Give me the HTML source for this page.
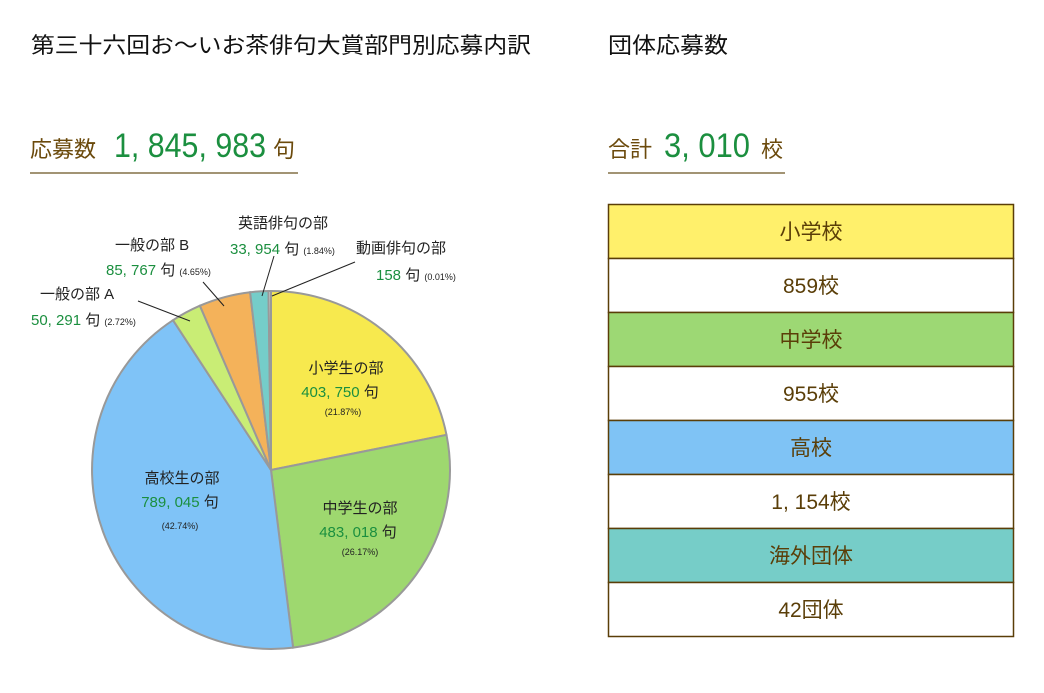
<!DOCTYPE html>
<html><head><meta charset="utf-8"><style>
html,body{margin:0;padding:0;background:#fff;}
svg{display:block;font-family:"Liberation Sans","Noto Sans CJK JP",sans-serif;}
</style></head><body>
<svg width="1044" height="693" viewBox="0 0 1044 693" xmlns="http://www.w3.org/2000/svg">
<text x="31" y="53" font-size="22" fill="#111" textLength="500" lengthAdjust="spacingAndGlyphs">第三十六回お～いお茶俳句大賞部門別応募内訳</text>
<text x="608" y="53" font-size="22" fill="#111" textLength="120" lengthAdjust="spacingAndGlyphs">団体応募数</text>

<text x="30" y="157" font-size="22" fill="#6b4a0c">応募数</text>
<text x="114" y="157" font-size="34" fill="#1b8f3f" textLength="152" lengthAdjust="spacingAndGlyphs">1, 845, 983</text>
<text x="273" y="157" font-size="22" fill="#6b4a0c">句</text>
<line x1="30" y1="173" x2="298" y2="173" stroke="#6b5420" stroke-width="1.2"/>

<text x="608" y="157" font-size="22" fill="#6b4a0c">合計</text>
<text x="664" y="157" font-size="34" fill="#1b8f3f" textLength="86" lengthAdjust="spacingAndGlyphs">3, 010</text>
<text x="761" y="157" font-size="22" fill="#6b4a0c">校</text>
<line x1="608" y1="173" x2="785" y2="173" stroke="#6b5420" stroke-width="1.2"/>

<g stroke="#999" stroke-width="2">
<path d="M271,470 L271,291 A179,179 0 0 1 446.5,434.9 Z" fill="#f7e94e"/>
<path d="M271,470 L446.5,434.9 A179,179 0 0 1 293.1,647.6 Z" fill="#9ed86f"/>
<path d="M271,470 L293.1,647.6 A179,179 0 0 1 173,320.2 Z" fill="#7fc3f7"/>
<path d="M271,470 L173,320.2 A179,179 0 0 1 199.9,305.7 Z" fill="#c9ed75"/>
<path d="M271,470 L199.9,305.7 A179,179 0 0 1 250.1,292.2 Z" fill="#f4b25a"/>
<path d="M271,470 L250.1,292.2 A179,179 0 0 1 268.5,291 Z" fill="#75cdc9"/>
<path d="M271,470 L268.5,291 A179,179 0 0 1 271,291 Z" fill="#ddd"/>
</g>
<g stroke="#222" stroke-width="1">
<line x1="138" y1="301" x2="190" y2="321"/>
<line x1="203" y1="282" x2="224" y2="306"/>
<line x1="274" y1="256" x2="262" y2="296"/>
<line x1="355" y1="262" x2="272" y2="296"/>
</g>
<g font-size="15" fill="#222">
<text x="238" y="228">英語俳句の部</text>
<text x="115" y="250">一般の部 B</text>
<text x="356" y="253">動画俳句の部</text>
<text x="40" y="299">一般の部 A</text>
</g>
<g font-size="15">
<text x="230" y="254"><tspan fill="#1b8f3f">33, 954</tspan><tspan fill="#222"> 句 </tspan><tspan fill="#222" font-size="9">(1.84%)</tspan></text>
<text x="106" y="275"><tspan fill="#1b8f3f">85, 767</tspan><tspan fill="#222"> 句 </tspan><tspan fill="#222" font-size="9">(4.65%)</tspan></text>
<text x="376" y="280"><tspan fill="#1b8f3f">158</tspan><tspan fill="#222"> 句 </tspan><tspan fill="#222" font-size="9">(0.01%)</tspan></text>
<text x="31" y="325"><tspan fill="#1b8f3f">50, 291</tspan><tspan fill="#222"> 句 </tspan><tspan fill="#222" font-size="9">(2.72%)</tspan></text>
</g>
<g font-size="15" text-anchor="middle" fill="#222">
<text x="346" y="373">小学生の部</text>
<text x="340" y="397"><tspan fill="#1b8f3f">403, 750</tspan> 句</text>
<text x="343" y="415" font-size="9">(21.87%)</text>
<text x="360" y="513">中学生の部</text>
<text x="358" y="537"><tspan fill="#1b8f3f">483, 018</tspan> 句</text>
<text x="360" y="555" font-size="9">(26.17%)</text>
<text x="182" y="483">高校生の部</text>
<text x="180" y="507"><tspan fill="#1b8f3f">789, 045</tspan> 句</text>
<text x="180" y="529" font-size="9">(42.74%)</text>
</g>

<g stroke="#5a3e08" stroke-width="1.5">
<rect x="608.5" y="204.5" width="405" height="54" fill="#fff06b"/>
<rect x="608.5" y="258.5" width="405" height="54" fill="#fff"/>
<rect x="608.5" y="312.5" width="405" height="54" fill="#9dd874"/>
<rect x="608.5" y="366.5" width="405" height="54" fill="#fff"/>
<rect x="608.5" y="420.5" width="405" height="54" fill="#7fc3f5"/>
<rect x="608.5" y="474.5" width="405" height="54" fill="#fff"/>
<rect x="608.5" y="528.5" width="405" height="54" fill="#76cdc8"/>
<rect x="608.5" y="582.5" width="405" height="54" fill="#fff"/>
</g>
<g font-size="21" text-anchor="middle" fill="#5a3e08">
<text x="811" y="239">小学校</text>
<text x="811" y="293">859校</text>
<text x="811" y="347">中学校</text>
<text x="811" y="401">955校</text>
<text x="811" y="455">高校</text>
<text x="811" y="509">1, 154校</text>
<text x="811" y="563">海外団体</text>
<text x="811" y="617">42団体</text>
</g>
</svg>
</body></html>
